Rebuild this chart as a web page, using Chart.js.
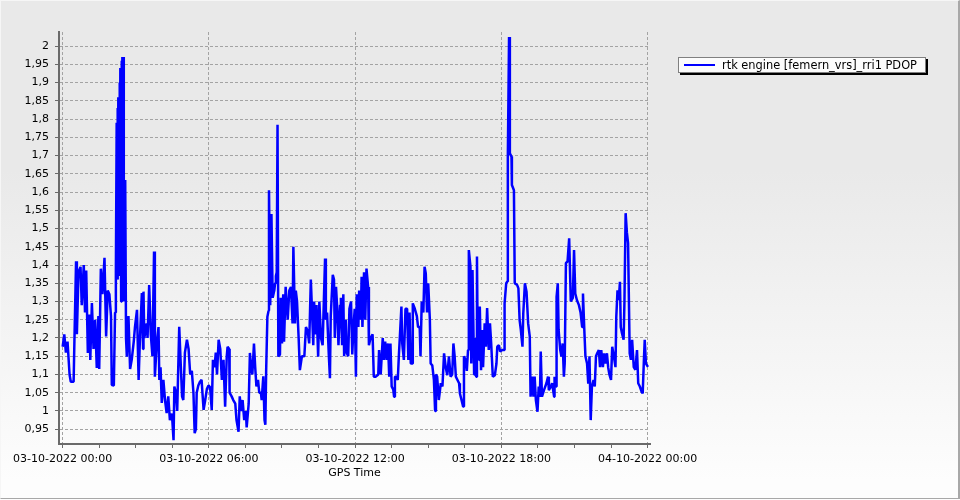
<!DOCTYPE html>
<html>
<head>
<meta charset="utf-8">
<script src="https://cdn.jsdelivr.net/npm/chart.js@4.4.1/dist/chart.umd.min.js"></script>
<style>
html,body{margin:0;padding:0;background:#fff;}
#wrap{position:relative;width:960px;height:500px;overflow:hidden;
  background:linear-gradient(to bottom,#e9e9e9 0px,#e9e9e9 170px,#fdfdfd 480px,#fdfdfd 500px);}
#frame{position:absolute;left:0;top:0;width:960px;height:499px;box-sizing:border-box;pointer-events:none;
  border-top:1px solid #f6f6f6;border-left:1px solid #f6f6f6;border-right:2px solid #a8a8a8;border-bottom:1px solid #a8a8a8;}
#c{position:absolute;left:0;top:0;}
#legend{position:absolute;left:678px;top:57px;width:248px;height:16px;box-sizing:border-box;
  border:1px solid #808080;background:#fcfcfc;box-shadow:2px 2px 0 #000;}
#legend .sw{position:absolute;left:5px;top:6px;width:31px;height:2px;background:#0000ff;}
#legend .tx{position:absolute;left:43px;top:0px;line-height:14px;font-family:"DejaVu Sans";font-size:11.4px;color:#000;white-space:nowrap;}
</style>
</head>
<body>
<div id="wrap">
  <canvas id="c" width="960" height="500"></canvas>
  <div id="frame"></div>
  <div id="legend"><span class="sw"></span><span class="tx" id="legtxt"></span></div>
</div>
<script>
// ---- data (minutes after 03-10-2022 00:00 GPS time, PDOP) ----
const seriesLabel = 'rtk engine [femern_vrs]_rri1 PDOP';
const axisTitle = 'GPS Time';

const gpsMinutes = [
  0,4,8,12,17,20,27,29,33,35,39,44,47,52,55,58,62,66,68,72,76,80,84,88,90,94,98,103,107,111,115,119,121,126,129,131,
  133,134,135,136,137,139,140,141,142,144,145,146,147,149,150,151,153,154,156,158,162,166,170,175,178,183,187,190,195,198,
  199,201,207,209,213,217,221,225,227,232,236,238,241,244,248,252,256,260,264,269,273,275,279,282,287,291,294,297,301,306,
  310,314,318,322,325,328,330,334,338,342,347,351,355,359,363,367,370,374,377,380,384,388,392,396,400,404,406,410,411,
  416,420,425,428,433,436,439,443,447,451,453,458,461,464,467,471,474,477,481,484,488,490,494,497,499,501,504,507,508,
  511,514,517,521,523,525,527,529,531,535,537,540,543,545,549,554,558,562,566,568,572,574,577,581,584,589,595,599,603,
  607,611,617,619,623,625,629,632,636,640,643,646,648,651,655,658,660,665,668,670,673,676,679,683,685,688,691,693,697,
  699,703,706,710,713,716,719,722,724,728,730,734,736,738,742,745,748,752,754,758,763,766,771,777,779,783,788,791,794,
  798,801,804,807,810,814,816,818,822,825,828,830,834,836,840,844,848,851,854,857,861,862,867,872,875,879,881,884,888,
  891,894,897,900,904,906,910,914,917,919,922,926,931,935,939,943,947,951,955,959,962,965,968,972,976,978,982,986,988,
  992,995,998,1000,1004,1006,1009,1013,1015,1018,1020,1022,1026,1027,1030,1033,1035,1039,1042,1045,1049,1052,1055,1059,
  1064,1068,1070,1074,1077,1082,1087,1088,1092,1095,1096,1099,1101,1105,1106,1111,1113,1119,1122,1125,1128,1132,1134,
  1138,1142,1146,1150,1152,1156,1159,1162,1165,1169,1172,1175,1177,1180,1185,1191,1195,1197,1202,1205,1210,1211,1215,
  1216,1219,1221,1225,1228,1231,1234,1236,1239,1243,1247,1251,1256,1259,1262,1266,1271,1275,1279,1281,1284,1287,1291,
  1294,1297,1300,1303,1307,1310,1313,1316,1320,1323,1326,1330,1333,1336,1340,1343,1346,1350,1353,1357,1361,1363,1366,
  1369,1372,1374,1377,1381,1383,1386,1389,1392,1396,1399,1402,1406,1410,1414,1417,1421,1425,1428,1431,1433,1436,1441
];

const pdopValues = [
  1.176,1.21,1.16,1.19,1.10,1.08,1.08,1.195,1.41,1.21,1.38,1.395,1.29,1.40,1.27,1.385,1.159,1.264,1.14,1.296,1.17,1.25,1.118,1.26,1.115,1.39,1.32,1.42,1.204,1.33,1.32,1.26,1.071,1.07,1.27,1.378,
  1.79,1.38,1.83,1.36,1.86,1.40,1.90,1.37,1.94,1.30,1.96,1.33,1.97,1.38,1.97,1.30,1.45,1.633,1.20,1.149,1.26,1.115,1.14,1.19,1.23,1.277,1.085,1.19,1.323,1.17,
  1.327,1.20,1.24,1.20,1.345,1.21,1.15,1.437,1.094,1.19,1.23,1.085,1.12,1.022,1.085,1.03,0.994,1.04,0.975,0.993,0.92,1.067,1.05,1.0,1.231,1.12,1.04,1.03,1.16,1.195,
  1.17,1.10,1.11,1.05,0.939,0.95,1.05,1.07,1.08,1.085,1.003,1.03,1.06,1.07,1.065,1.003,1.14,1.12,1.16,1.10,1.195,1.17,1.085,1.14,1.012,1.15,1.176,1.17,1.05,
  1.04,1.03,1.02,0.975,0.943,1.04,1.0,1.03,0.975,1.0,0.955,1.02,1.159,1.12,1.1,1.185,1.12,1.067,1.085,1.05,1.05,1.03,1.095,0.975,0.962,1.11,1.258,1.275,1.605,
  1.29,1.54,1.31,1.33,1.35,1.37,1.38,1.784,1.149,1.155,1.31,1.185,1.32,1.19,1.34,1.25,1.33,1.34,1.24,1.45,1.24,1.33,1.30,1.2,1.112,1.15,1.15,1.23,1.22,
  1.185,1.36,1.18,1.30,1.21,1.29,1.149,1.30,1.20,1.18,1.30,1.418,1.25,1.27,1.16,1.09,1.26,1.373,1.36,1.20,1.34,1.28,1.18,1.29,1.31,1.18,1.32,1.15,1.25,
  1.16,1.15,1.28,1.30,1.155,1.23,1.28,1.094,1.32,1.23,1.33,1.25,1.368,1.23,1.38,1.25,1.39,1.34,1.18,1.20,1.21,1.094,1.094,1.10,1.167,1.10,1.20,1.14,1.19,
  1.14,1.185,1.094,1.185,1.067,1.058,1.039,1.094,1.094,1.085,1.158,1.20,1.286,1.185,1.14,1.28,1.28,1.14,1.27,1.13,1.13,1.295,1.28,1.26,1.23,1.23,1.15,1.30,1.27,
  1.395,1.377,1.27,1.35,1.25,1.13,1.125,1.085,1.0,1.10,1.094,1.03,1.076,1.067,1.158,1.12,1.098,1.15,1.094,1.10,1.185,1.15,1.094,1.085,1.076,1.048,1.03,1.012,1.15,
  1.14,1.11,1.167,1.441,1.395,1.13,1.386,1.10,1.20,1.094,1.423,1.158,1.14,1.286,1.112,1.222,1.12,1.24,1.176,1.282,1.167,1.24,1.185,1.094,
  1.098,1.13,1.176,1.18,1.163,1.167,1.167,1.295,1.35,1.355,1.697,2.025,1.706,1.697,1.619,1.605,1.35,1.345,1.336,1.249,1.222,1.176,1.267,
  1.35,1.327,1.24,1.204,1.039,1.094,1.039,1.094,1.03,0.998,1.067,1.039,1.163,1.039,1.057,1.076,1.094,1.057,1.067,1.076,1.039,1.094,1.067,
  1.313,1.35,1.222,1.167,1.149,1.185,1.094,1.13,1.405,1.41,1.473,1.30,1.31,1.441,1.322,1.304,1.29,1.27,1.23,1.322,1.23,1.15,1.13,
  1.075,1.15,0.975,1.067,1.085,1.067,1.15,1.158,1.167,1.12,1.167,1.12,1.158,1.13,1.158,1.12,1.1,1.085,1.176,1.15,1.12,1.258,1.331,
  1.304,1.354,1.23,1.213,1.195,1.295,1.542,1.49,1.46,1.158,1.14,1.195,1.12,1.113,1.167,1.076,1.067,1.054,1.048,1.14,1.195,1.13,1.121
];

const xTickValues = [0, 360, 720, 1080, 1440];
const xTickLabels = ['03-10-2022 00:00','03-10-2022 06:00','03-10-2022 12:00','03-10-2022 18:00','04-10-2022 00:00'];
const xMinorTickValues = [0,90,180,270,360,450,540,630,720,810,900,990,1080,1170,1260,1350,1440];
const yTickValues = [0.95,1,1.05,1.1,1.15,1.2,1.25,1.3,1.35,1.4,1.45,1.5,1.55,1.6,1.65,1.7,1.75,1.8,1.85,1.9,1.95,2];
const yTickLabels = ['0,95','1','1,05','1,1','1,15','1,2','1,25','1,3','1,35','1,4','1,45','1,5','1,55','1,6','1,65','1,7','1,75','1,8','1,85','1,9','1,95','2'];

// ---- chart ----
document.getElementById('legtxt').textContent = seriesLabel;

const points = gpsMinutes.map((m, i) => ({x: m, y: pdopValues[i]}));
const FONT = {family: '"DejaVu Sans", Verdana, sans-serif', size: 11};
const GRID = '#a3a3a3';
const AXIS = '#6a6a6a';

new Chart(document.getElementById('c'), {
  type: 'line',
  data: {
    datasets: [{
      label: seriesLabel,
      data: points,
      borderColor: '#0000ff',
      borderWidth: 2.5,
      borderJoinStyle: 'bevel',
      pointRadius: 0,
      tension: 0,
      fill: false
    }]
  },
  options: {
    responsive: false,
    devicePixelRatio: 1,
    animation: false,
    events: [],
    layout: {padding: {left: 0, right: 310, top: 32, bottom: 0}},
    plugins: {legend: {display: false}, tooltip: {enabled: false}},
    scales: {
      x: {
        type: 'linear',
        min: -9,
        max: 1446,
        afterBuildTicks: s => { s.ticks = xMinorTickValues.map(v => ({value: v})); },
        afterFit: s => { s.height = 56; },
        grid: {
          color: c => (c.tick && xTickValues.includes(c.tick.value)) ? GRID : 'rgba(0,0,0,0)',
          lineWidth: 1,
          drawTicks: true,
          tickLength: 4,
          tickColor: AXIS,
          tickWidth: 1
        },
        border: {display: true, color: AXIS, width: 2, dash: [3, 2]},
        ticks: {
          autoSkip: false,
          maxRotation: 0,
          minRotation: 0,
          padding: 5,
          color: '#000',
          font: FONT,
          callback: v => { const i = xTickValues.indexOf(v); return i >= 0 ? xTickLabels[i] : ''; }
        },
        title: {display: true, text: axisTitle, color: '#000', font: FONT, padding: {top: 0, bottom: 20.7}}
      },
      y: {
        type: 'linear',
        min: 0.9095,
        max: 2.0385,
        afterBuildTicks: s => { s.ticks = yTickValues.map(v => ({value: v})); },
        afterFit: s => { s.width = 59; },
        grid: {
          color: GRID,
          lineWidth: 1,
          drawTicks: true,
          tickLength: 4,
          tickColor: AXIS,
          tickWidth: 1
        },
        border: {display: true, color: AXIS, width: 2, dash: [3, 2]},
        ticks: {
          autoSkip: false,
          padding: 6,
          color: '#000',
          font: FONT,
          callback: v => { const i = yTickValues.indexOf(v); return i >= 0 ? yTickLabels[i] : ''; }
        }
      }
    }
  }
});
</script>
</body>
</html>
